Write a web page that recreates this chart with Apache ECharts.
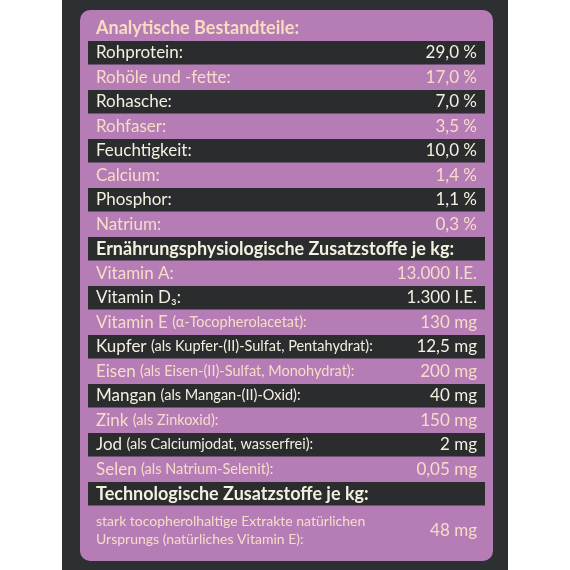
<!DOCTYPE html><html><head><meta charset="utf-8"><script src="https://cdn.jsdelivr.net/npm/echarts@6/dist/echarts.min.js"></script>
<style>html,body{margin:0;background:#fff}#c{width:570px;height:570px}</style></head><body><div id="c"></div><script>
const labels=["Analytische Bestandteile:","Rohprotein:","Rohöle und -fette:","Rohasche:","Rohfaser:","Feuchtigkeit:","Calcium:","Phosphor:","Natrium:","Ernährungsphysiologische Zusatzstoffe je kg:","Vitamin A:","Vitamin D₃:","Vitamin E","Kupfer","Eisen","Mangan","Zink","Jod","Selen","Technologische Zusatzstoffe je kg:","stark tocopherolhaltige Extrakte natürlichen\nUrsprungs (natürliches Vitamin E):"];
const notes=["","","","","","","","","","","","","(α-Tocopherolacetat):","(als Kupfer-(II)-Sulfat, Pentahydrat):","(als Eisen-(II)-Sulfat, Monohydrat):","(als Mangan-(II)-Oxid):","(als Zinkoxid):","(als Calciumjodat, wasserfrei):","(als Natrium-Selenit):","",""];
const values=["","29,0 %","17,0 %","7,0 %","3,5 %","10,0 %","1,4 %","1,1 %","0,3 %","","13.000 I.E.","1.300 I.E.","130 mg","12,5 mg","200 mg","40 mg","150 mg","2 mg","0,05 mg","","48 mg"];
const kinds=["h","d","p","d","p","d","p","d","p","H","p","d","p","d","p","d","p","d","p","H","q"];
const slots=labels.map((_,i)=>String(i)).concat(["21"]);
const FONT='Lato';
const chart=echarts.init(document.getElementById('c'));
chart.setOption({
 animation:false,
 graphic:[
  {type:'rect',shape:{x:62,y:0,width:446,height:570},style:{fill:'#2d3033'},z:-10},
  {type:'rect',shape:{x:80,y:10,width:413,height:551,r:10},style:{fill:'#b57cb5'},z:-9}
 ],
 grid:{left:88,right:85,top:16,bottom:15},
 xAxis:{type:'value',min:0,max:1,show:false},
 yAxis:{type:'category',data:slots,inverse:true,show:false},
 series:[{type:'custom',data:labels.map((l,i)=>[i]),encode:{y:0},
  renderItem:(params,api)=>{
   const i=api.value(0);const k=kinds[i];
   const p0=api.coord([0,i]);const p1=api.coord([1,i]);
   const h=api.size([0,1])[1];
   const span=k==='q'?2:1;
   const top=p0[1]-h/2;const hh=h*span;
   const cy=top+hh/2;
   const ch=[];
   if(k==='d'||k==='H') ch.push({type:'rect',shape:{x:p0[0],y:top+0.5,width:p1[0]-p0[0],height:hh-1},style:{fill:'#2a2c2e'}});
   const bold=k==='h'||k==='H';
   const col=(k==='d'||k==='H')?'#f3f0e0':(k==='h'?'#f8dcc0':'#f6dcc8');
   const fs=bold?'18px ':(k==='q'?'14px ':'17px ');
   ch.push({type:'text',style:{x:p0[0]+8,y:cy,text:notes[i]?'{a|'+labels[i]+' }{b|'+notes[i]+'}':labels[i],
     verticalAlign:'middle',fill:col,font:(bold?'bold ':'')+fs+FONT,lineHeight:k==='q'?18:22,
     rich:{a:{fontSize:17,fontFamily:FONT,fill:col},b:{fontSize:14.5,fontFamily:FONT,fill:col}}}});
   if(values[i]) ch.push({type:'text',style:{x:p1[0]-8,y:cy,text:values[i],align:'right',verticalAlign:'middle',fill:col,font:'17px '+FONT}});
   return {type:'group',children:ch};
  }}]
});
</script></body></html>
